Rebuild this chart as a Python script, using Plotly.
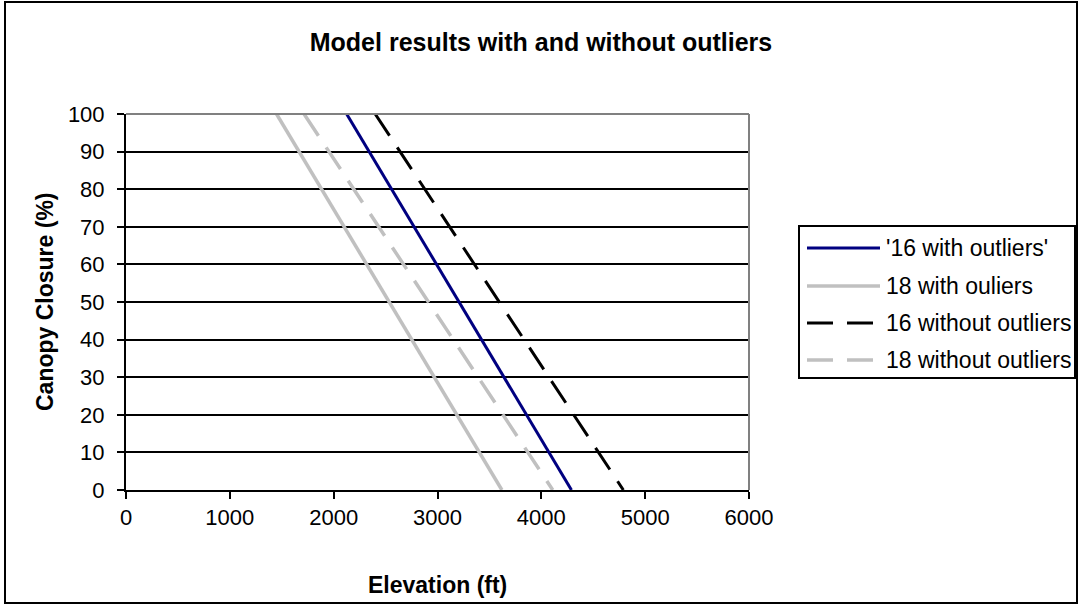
import plotly.graph_objects as go

# Canopy closure (%) at the two ends of each fitted model line
canopy_pct = [100, 0]

series_names = ["'16 with outliers'", "18 with ouliers", "16 without outliers", "18 without outliers"]
elev_16_with = [2125, 4290]
elev_18_with = [1450, 3620]
elev_16_without = [2400, 4790]
elev_18_without = [1715, 4110]

x_ticks = [0, 1000, 2000, 3000, 4000, 5000, 6000]
y_ticks = [0, 10, 20, 30, 40, 50, 60, 70, 80, 90, 100]

styles = [
    dict(color="#000080", width=3, dash="solid"),
    dict(color="#C0C0C0", width=3.5, dash="solid"),
    dict(color="#000000", width=3, dash="26px,14px"),
    dict(color="#C0C0C0", width=3.5, dash="26px,14px"),
]

W, H = 1080, 606
L, R, T, B = 126, 749, 114, 490  # plot area in pixels


def px(xp):
    return (xp - L) / (R - L)


def py(yp):
    return (B - yp) / (B - T)


FONT = "Arial, Liberation Sans, sans-serif"

fig = go.Figure()
for name, xs, st in zip(series_names,
                        [elev_16_with, elev_18_with, elev_16_without, elev_18_without],
                        styles):
    fig.add_trace(go.Scatter(x=xs, y=canopy_pct, mode="lines", name=name,
                             line=st, showlegend=False))

shapes = []
annotations = []

# outer chart frame
shapes.append(dict(type="rect", xref="paper", yref="paper",
                   x0=px(5), x1=px(1077), y0=py(603), y1=py(2),
                   line=dict(color="black", width=2), layer="below"))
# grey top / right edges of the plot area
shapes.append(dict(type="line", xref="paper", yref="paper",
                   x0=0, x1=1, y0=1, y1=1,
                   line=dict(color="#808080", width=2), layer="above"))
shapes.append(dict(type="line", xref="paper", yref="paper",
                   x0=1, x1=1, y0=0, y1=1,
                   line=dict(color="#808080", width=2), layer="above"))

# legend box
shapes.append(dict(type="rect", xref="paper", yref="paper",
                   x0=px(799), x1=px(1075), y0=py(378), y1=py(226),
                   line=dict(color="black", width=2), fillcolor="white", layer="above"))
row_y = [248, 286, 323, 360]
for name, st, ry in zip(series_names, styles, row_y):
    shapes.append(dict(type="line", xref="paper", yref="paper",
                       x0=px(807), x1=px(880), y0=py(ry), y1=py(ry),
                       line=st, layer="above"))
    annotations.append(dict(text=name, xref="paper", yref="paper",
                            x=px(884), y=py(ry), xanchor="left", yanchor="middle",
                            showarrow=False, font=dict(family=FONT, size=23, color="black")))

# axis titles
annotations.append(dict(text="<b>Elevation (ft)</b>", xref="paper", yref="paper",
                        x=0.5, y=py(585), xanchor="center", yanchor="middle",
                        showarrow=False, font=dict(family=FONT, size=23, color="black")))
annotations.append(dict(text="<b>Canopy Closure (%)</b>", xref="paper", yref="paper",
                        x=px(45), y=0.5, xanchor="center", yanchor="middle", textangle=-90,
                        showarrow=False, font=dict(family=FONT, size=23, color="black")))

fig.update_layout(
    width=W, height=H,
    margin=dict(l=L, r=W - R, t=T, b=H - B),
    paper_bgcolor="white", plot_bgcolor="white",
    title=dict(text="<b>Model results with and without outliers</b>",
               x=541 / W, xref="container", xanchor="center",
               y=1 - 42 / H, yref="container", yanchor="middle",
               font=dict(family=FONT, size=25, color="black")),
    shapes=shapes, annotations=annotations,
    showlegend=False,
)
fig.update_xaxes(range=[0, 6000], tickvals=x_ticks, showgrid=False, zeroline=False,
                 showline=True, linecolor="black", linewidth=2,
                 ticks="outside", ticklen=7, tickwidth=2, tickcolor="black",
                 tickfont=dict(family=FONT, size=22, color="black"))
fig.update_yaxes(range=[0, 100], tickvals=y_ticks, showgrid=True, gridcolor="black",
                 gridwidth=1.5, zeroline=False,
                 showline=True, linecolor="black", linewidth=2,
                 ticks="outside", ticklen=7, tickwidth=2, tickcolor="black",
                 ticklabelstandoff=8,
                 tickfont=dict(family=FONT, size=22, color="black"))

fig.write_html("out.html")
